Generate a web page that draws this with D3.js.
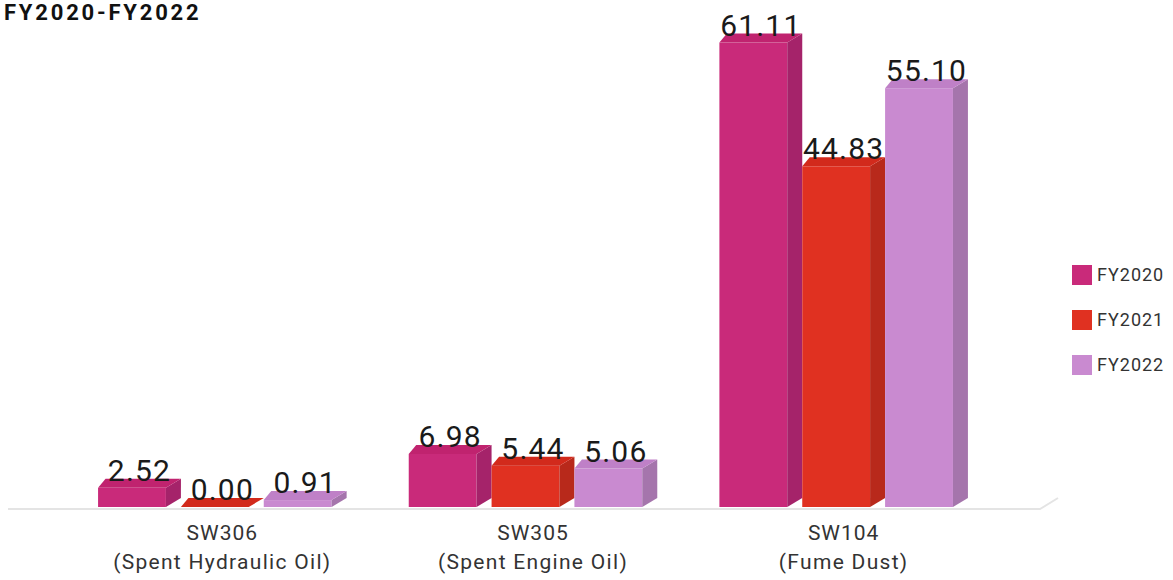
<!DOCTYPE html>
<html>
<head>
<meta charset="utf-8">
<script src="https://cdn.jsdelivr.net/npm/d3@7"></script>
<style>
  body { margin: 0; background: #fff; }
  text { font-family: Roboto, "Noto Sans", sans-serif; }
</style>
</head>
<body>
<div id="chart"></div>
<script>
const categories = ["SW306", "SW305", "SW104"];
const categoryNotes = ["(Spent Hydraulic Oil)", "(Spent Engine Oil)", "(Fume Dust)"];
const years = ["FY2020", "FY2021", "FY2022"];
const fy2020 = [2.52, 6.98, 61.11];
const fy2021 = [0.00, 5.44, 44.83];
const fy2022 = [0.91, 5.06, 55.10];

const width = 1173, height = 580;
const depthX = 15, depthY = 9;

// colours: front / side / top
const colors = {
  FY2020: { front: "#c92a7a", side: "#a5236a", top: "#c0236f" },
  FY2021: { front: "#e03121", side: "#b8291b", top: "#d22a1c" },
  FY2022: { front: "#c98ad0", side: "#a575ac", top: "#bf80c7" }
};

const rows = categories.map((c, i) => ({
  cat: c, note: categoryNotes[i],
  values: [fy2020[i], fy2021[i], fy2022[i]].map((v, j) => ({ year: years[j], value: v }))
}));

const svg = d3.select("#chart").append("svg")
  .attr("width", width).attr("height", height);

// title
svg.append("text")
  .attr("x", 4).attr("y", 20)
  .attr("font-size", 22).attr("font-weight", 700)
  .attr("letter-spacing", 2.8)
  .attr("fill", "#111")
  .text("FY2020-FY2022");

/* Scales */
const x0 = d3.scaleBand().domain(categories).range([67, 999])
  .paddingInner(0.2).paddingOuter(0.1);
const x1 = d3.scaleBand().domain(years).range([0, x0.bandwidth()]);
const barW = x1.step() - depthX;
const y = d3.scaleLinear().domain([0, 70]).range([507, 507 - 70 * 7.6]);

/* Floor */
svg.append("path")
  .attr("d", `M8,${y(0) + 2} L1040,${y(0) + 2} L1058,${y(0) - 9}`)
  .attr("fill", "none").attr("stroke", "#e4e4e4").attr("stroke-width", 2);

/* Bars */
const groups = svg.selectAll(".group").data(rows).enter()
  .append("g").attr("class", "group")
  .attr("transform", d => `translate(${x0(d.cat)},0)`);

const bars = groups.selectAll(".bar").data(d => d.values).enter()
  .append("g").attr("class", "bar");

bars.each(function(d) {
  const g = d3.select(this);
  const x = x1(d.year), yt = y(d.value), yb = y(0);
  const c = colors[d.year];
  if (yb - yt > 0.5) {
    g.append("rect").attr("x", x).attr("y", yt).attr("width", barW).attr("height", yb - yt)
      .attr("fill", c.front);
    g.append("path")
      .attr("d", `M${x + barW},${yt} L${x + barW + depthX},${yt - depthY} L${x + barW + depthX},${yb - depthY} L${x + barW},${yb} Z`)
      .attr("fill", c.side);
  }
  g.append("path")
    .attr("d", `M${x},${yt} L${x + depthX * 0.5},${yt - depthY} L${x + barW + depthX},${yt - depthY} L${x + barW},${yt} Z`)
    .attr("fill", c.top);
  g.append("text")
    .attr("x", x + (barW + depthX) / 2)
    .attr("y", yt - depthY + 2)
    .attr("text-anchor", "middle")
    .attr("font-size", 30)
    .attr("letter-spacing", 1.2)
    .attr("fill", "#1a1a1a")
    .text(d.value.toFixed(2));
});

/* Category labels */
groups.append("text")
  .attr("x", x0.bandwidth() / 2).attr("y", 540)
  .attr("text-anchor", "middle").attr("font-size", 21).attr("letter-spacing", 1)
  .attr("fill", "#333")
  .text(d => d.cat);
groups.append("text")
  .attr("x", x0.bandwidth() / 2).attr("y", 569)
  .attr("text-anchor", "middle").attr("font-size", 21).attr("letter-spacing", 1.3)
  .attr("fill", "#333")
  .text(d => d.note);

/* Legend */
const legend = svg.selectAll(".legend").data(years).enter()
  .append("g").attr("class", "legend")
  .attr("transform", (d, i) => `translate(1072,${265 + i * 45})`);
legend.append("rect").attr("width", 20).attr("height", 20)
  .attr("fill", d => colors[d].front);
legend.append("text").attr("x", 25).attr("y", 16)
  .attr("font-size", 18).attr("letter-spacing", 1)
  .attr("fill", "#333").text(d => d);
</script>
</body>
</html>
